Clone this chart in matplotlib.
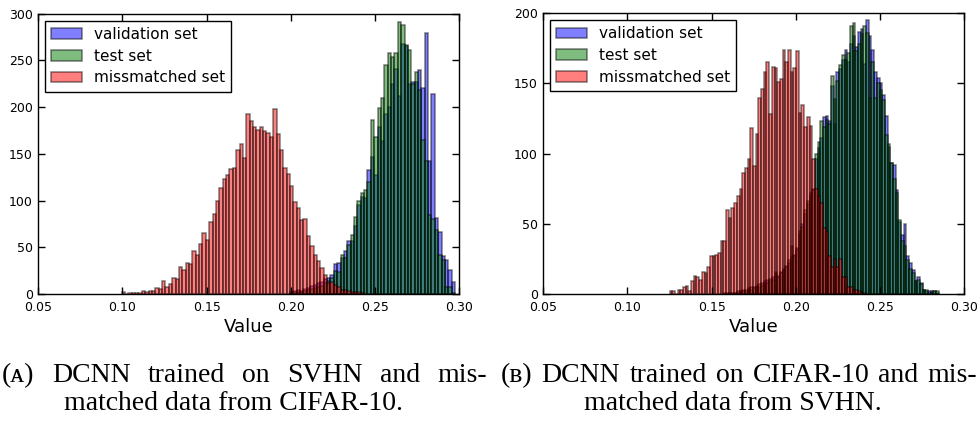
import numpy as np
import matplotlib.pyplot as plt

# (A) network trained on SVHN, histogram counts per bin
svhn_bin_start = 0.0995
svhn_bin_width = 0.002
svhn_n_bins = 99
svhn_mismatched = [
    2.5, 0, 1, 1, 1, 1, 3, 2, 3.5, 3, 6, 5, 14, 7, 11, 17, 16, 29, 26, 33,
    32, 46, 42, 53, 65, 58, 77, 86, 100, 113, 123, 127, 134, 135, 154, 160,
    146, 193, 185, 179, 175, 179, 174, 172, 168, 198, 171, 154, 135, 128,
    116, 98, 92, 79, 80, 62, 51, 42, 35, 28, 20, 12, 13, 10, 7, 4, 4, 3, 2,
    2, 2, 1,
]
svhn_first_valid_bin = 50
svhn_validation = [
    2, 3, 4, 3, 5, 6, 9, 10, 12, 13, 16, 17, 20, 32, 33, 38, 46, 57, 57, 73,
    95, 104, 103, 133, 147, 127, 179, 164, 193, 200, 225, 241, 212, 268, 265,
    225, 227, 227, 240, 220, 279, 142, 214, 81, 66, 41, 36, 26, 13,
]
svhn_test = [
    1, 2, 2, 2, 3, 4, 5, 6, 8, 9, 12, 14, 17, 25, 24, 42, 39, 52, 63, 82,
    99, 108, 111, 120, 186, 168, 199, 210, 245, 258, 254, 258, 291, 288, 266,
    261, 225, 238, 218, 165, 142, 85, 80, 68, 42, 36, 8, 8, 1,
]

# (B) network trained on CIFAR-10
cifar_bin_start = 0.125
cifar_bin_width = 0.0016
cifar_n_bins = 100
cifar_mismatched = [
    2, 2, 0, 3, 3, 5, 6, 2, 9, 13, 12, 10, 16, 15, 19, 27, 27, 28, 29, 38,
    38, 60, 54, 61, 65, 70, 75, 86, 90, 96, 118, 91, 114, 140, 146, 158, 165,
    128, 162, 161, 151, 153, 174, 165, 174, 158, 161, 173, 129, 135, 119, 126,
    120, 96, 75, 70, 65, 47, 44, 27, 19, 25, 19, 25, 12, 12, 5, 5, 3, 3, 2, 1,
    1,
]
cifar_first_valid_bin = 20
cifar_validation = [
    0, 1, 1, 0, 1, 2, 1, 3, 2, 4, 3, 5, 6, 5, 8, 7, 10, 9, 12, 14, 13, 16,
    18, 20, 22, 26, 28, 33, 43, 50, 57, 64, 70, 75, 96, 104, 111, 126, 127,
    123, 148, 121, 158, 160, 167, 174, 165, 178, 184, 176, 187, 189, 164, 195,
    184, 174, 158, 154, 150, 142, 127, 105, 93, 92, 74, 51, 42, 50, 27, 22,
    17, 9, 12, 8, 3, 2, 2, 2, 2, 1,
]
cifar_test = [
    1, 0, 1, 1, 1, 1, 2, 2, 3, 3, 5, 4, 5, 7, 6, 9, 8, 11, 10, 16, 12, 15,
    17, 19, 24, 34, 27, 31, 45, 48, 60, 66, 72, 74, 100, 108, 123, 119, 124,
    121, 155, 139, 152, 163, 170, 167, 172, 191, 193, 173, 178, 185, 191, 186,
    140, 165, 140, 150, 145, 138, 113, 107, 93, 82, 72, 53, 38, 34, 24, 18,
    15, 9, 10, 7, 3, 3, 1, 1, 2, 2,
]

xticks = [0.05, 0.10, 0.15, 0.20, 0.25, 0.30]

panels = [
    dict(start=svhn_bin_start, width=svhn_bin_width, n=svhn_n_bins,
         red=svhn_mismatched, first=svhn_first_valid_bin,
         val=svhn_validation, test=svhn_test, ymax=300,
         rect=[0.0391, 0.3017, 0.4300, 0.6658]),
    dict(start=cifar_bin_start, width=cifar_bin_width, n=cifar_n_bins,
         red=cifar_mismatched, first=cifar_first_valid_bin,
         val=cifar_validation, test=cifar_test, ymax=200,
         rect=[0.5550, 0.3017, 0.4297, 0.6667]),
]

fig = plt.figure(figsize=(9.79, 4.21), dpi=100)

bar_kw = dict(align="edge", alpha=0.5, edgecolor="k", linewidth=1.1)

for p in panels:
    ax = fig.add_axes(p["rect"])
    edges = p["start"] + p["width"] * np.arange(p["n"] + 1)
    f = p["first"]
    ax.bar(edges[f:f + len(p["val"])], p["val"], width=p["width"],
           color="#0000ff", label="validation set", **bar_kw)
    ax.bar(edges[f:f + len(p["test"])], p["test"], width=p["width"],
           color="#007a00", label="test set", **bar_kw)
    ax.bar(edges[:len(p["red"])], p["red"], width=p["width"],
           color="#ff0000", label="missmatched set", **bar_kw)

    ax.set_xlim(0.05, 0.30)
    ax.set_ylim(0, p["ymax"])
    ax.set_xticks(xticks)
    ax.set_xticklabels(["%.2f" % t for t in xticks])
    ax.set_yticks(np.arange(0, p["ymax"] + 1, 50))
    ax.tick_params(direction="in", top=True, right=True, length=5,
                   width=1, labelsize=9)
    ax.tick_params(axis="x", pad=5)
    ax.tick_params(axis="y", pad=4)
    for s in ax.spines.values():
        s.set_linewidth(1)
    ax.set_xlabel("Value", fontsize=13, labelpad=3)
    leg = ax.legend(loc="upper left", fontsize=11, fancybox=False,
                    framealpha=1, edgecolor="k", borderaxespad=0.45,
                    handlelength=2.0, handletextpad=0.8, labelspacing=0.45,
                    borderpad=0.4)
    leg.get_frame().set_linewidth(1)

# sub-figure captions; the first lines are spread word by word to a fixed width
cap_font = dict(family=["Liberation Serif", "DejaVu Serif"], fontsize=20)


def justified_line(words, x0_px, width_px, y):
    texts = [fig.text(0, y, w, ha="left", va="baseline", **cap_font)
             for w in words]
    fig.canvas.draw()
    r = fig.canvas.get_renderer()
    widths = [t.get_window_extent(r).width for t in texts]
    gap = (width_px - sum(widths)) / (len(words) - 1)
    x = x0_px
    for t, w in zip(texts, widths):
        t.set_x(x / fig.bbox.width)
        x += w + gap


justified_line(["(ᴀ)", "DCNN", "trained", "on", "SVHN", "and", "mis-"],
               2, 485, 0.093)
fig.text(0.238, 0.025, "matched data from CIFAR-10.", ha="center",
         va="baseline", **cap_font)
justified_line(["(ʙ)", "DCNN", "trained", "on", "CIFAR-10", "and", "mis-"],
               501, 476, 0.093)
fig.text(0.749, 0.025, "matched data from SVHN.", ha="center",
         va="baseline", **cap_font)

fig.savefig("out.png", dpi=100)
